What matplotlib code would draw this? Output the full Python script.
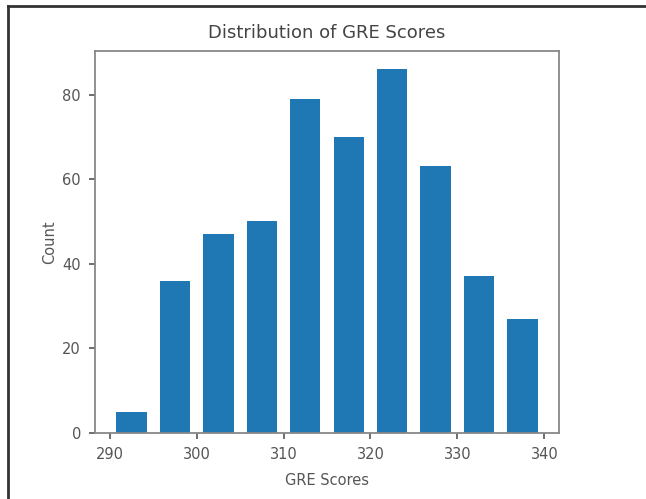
import matplotlib
matplotlib.use("Agg")
import matplotlib.pyplot as plt
from matplotlib.lines import Line2D

# Data: histogram of GRE scores (10 bins, 290-340)
bin_edges = [290, 295, 300, 305, 310, 315, 320, 325, 330, 335, 340]
counts = [5, 36, 47, 50, 79, 70, 86, 63, 37, 27]
x_ticks = [290, 300, 310, 320, 330, 340]
y_ticks = [0, 20, 40, 60, 80]

plt.rcParams['font.family'] = ['DejaVu Sans']

fig = plt.figure(figsize=(6.46, 4.99), dpi=100)
ax = fig.add_axes([95/646, 1-433/499, (559-95)/646, (433-51)/499])

centers = [(a + b) / 2 for a, b in zip(bin_edges[:-1], bin_edges[1:])]
ax.hist(centers, bins=bin_edges, weights=counts, rwidth=0.7, color='#1f77b4')

ax.set_xticks(x_ticks)
ax.set_yticks(y_ticks)
for s in ax.spines.values():
    s.set_color('#888888')
    s.set_linewidth(1.3)
ax.tick_params(colors='#555555', labelsize=10.5, width=1.2, length=4, pad=6)
ax.set_title("Distribution of GRE Scores", fontsize=13, color='#444444', pad=9)
ax.set_xlabel("GRE Scores", fontsize=10.5, color='#555555', labelpad=8)
ax.set_ylabel("Count", fontsize=10.5, color='#555555', labelpad=4)

# figure frame (top and left edges)
fig.add_artist(Line2D([8/646, 1], [1-6/499, 1-6/499], transform=fig.transFigure, color='#333333', lw=2))
fig.add_artist(Line2D([8/646, 8/646], [0, 1-6/499], transform=fig.transFigure, color='#333333', lw=2))

fig.savefig("out.png", dpi=100)
